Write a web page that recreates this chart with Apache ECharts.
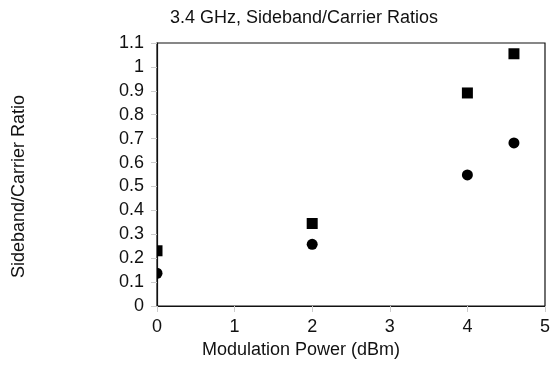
<!DOCTYPE html>
<html><head><meta charset="utf-8">
<script src="https://cdn.jsdelivr.net/npm/echarts@6/dist/echarts.min.js"></script>
<style>html,body{margin:0;padding:0;background:#fff}#c{width:553px;height:369px}</style>
</head><body><div id="c"></div>
<script>
const squareX = [0, 2, 4, 4.6];
const squareY = [0.231, 0.345, 0.891, 1.055];
const circleX = [0, 2, 4, 4.6];
const circleY = [0.137, 0.258, 0.548, 0.682];
const xTicks = [0, 1, 2, 3, 4, 5];
const yTicks = [0, 0.1, 0.2, 0.3, 0.4, 0.5, 0.6, 0.7, 0.8, 0.9, 1, 1.1];

const font = 'Liberation Sans, Arial, sans-serif';
const fs = 18;
function markerSeries(xs, ys, shape) {
  return {
    type: 'custom', clip: true,
    data: xs.map((x, i) => [x, ys[i]]),
    renderItem: (params, api) => {
      const p = api.coord([api.value(0), api.value(1)]);
      const s = 11;
      if (shape === 'rect') {
        return {type: 'rect', shape: {x: p[0] - s / 2, y: p[1] - s / 2, width: s, height: s}, style: {fill: '#000'}};
      }
      return {type: 'circle', shape: {cx: p[0], cy: p[1], r: s / 2}, style: {fill: '#000'}};
    }
  };
}
const chart = echarts.init(document.getElementById('c'), null, {renderer: 'canvas'});
chart.setOption({
  animation: false,
  backgroundColor: '#fff',
  title: {
    text: '3.4 GHz, Sideband/Carrier Ratios',
    left: 299, top: 4, textAlign: 'center',
    textStyle: {fontFamily: font, fontSize: fs, fontWeight: 'normal', color: '#111'}
  },
  grid: {left: 157, right: 6, top: 43, bottom: 63, show: true, borderColor: '#111', borderWidth: 1.2, containLabel: false},
  xAxis: {
    type: 'value', min: xTicks[0], max: xTicks[xTicks.length - 1], interval: 1,
    name: 'Modulation Power (dBm)', nameLocation: 'middle', nameGap: 32,
    nameTextStyle: {fontFamily: font, fontSize: fs, color: '#111', padding: [0, 100, 0, 0]},
    axisLine: {show: true, lineStyle: {color: '#111', width: 1.2}},
    axisTick: {show: true, length: 6, lineStyle: {color: '#ccc'}},
    axisLabel: {fontFamily: font, fontSize: fs, color: '#111', margin: 12},
    splitLine: {show: false}
  },
  yAxis: {
    type: 'value', min: yTicks[0], max: yTicks[yTicks.length - 1], interval: 0.1,
    name: 'Sideband/Carrier Ratio', nameLocation: 'middle', nameGap: 129,
    nameTextStyle: {fontFamily: font, fontSize: fs, color: '#111', padding: [0, 24, 0, 0]},
    axisLine: {show: true, lineStyle: {color: '#111', width: 1.2}},
    axisTick: {show: true, length: 6, lineStyle: {color: '#ccc'}},
    axisLabel: {fontFamily: font, fontSize: fs, color: '#111', margin: 13,
      formatter: v => String(Math.round(v * 10) / 10)},
    splitLine: {show: false}
  },
  series: [
    markerSeries(squareX, squareY, 'rect'),
    markerSeries(circleX, circleY, 'circle')
  ]
});
</script></body></html>
